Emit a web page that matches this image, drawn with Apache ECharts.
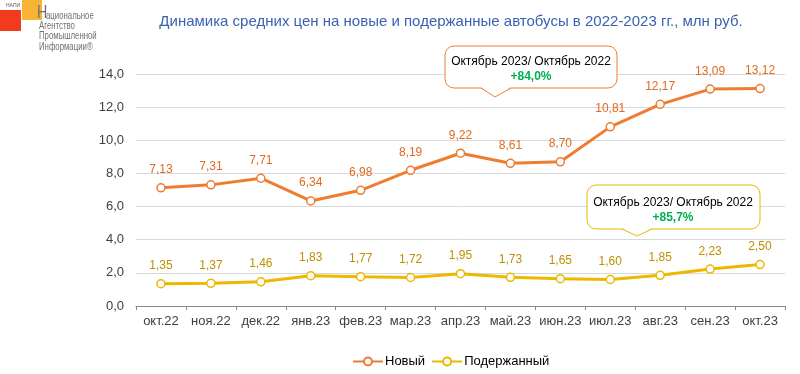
<!DOCTYPE html>
<html><head><meta charset="utf-8">
<script src="https://cdn.jsdelivr.net/npm/echarts@6/dist/echarts.min.js"></script>
<style>html,body{margin:0;padding:0;background:#fff}#c{width:800px;height:374px}</style>
</head><body><div id="c"></div>
<script>
const categories = ['окт.22','ноя.22','дек.22','янв.23','фев.23','мар.23','апр.23','май.23','июн.23','июл.23','авг.23','сен.23','окт.23'];
const newPrices = [7.13, 7.31, 7.71, 6.34, 6.98, 8.19, 9.22, 8.61, 8.70, 10.81, 12.17, 13.09, 13.12];
const usedPrices = [1.35, 1.37, 1.46, 1.83, 1.77, 1.72, 1.95, 1.73, 1.65, 1.60, 1.85, 2.23, 2.50];
const seriesNames = ['Новый', 'Подержанный'];
const yTicks = [0, 2, 4, 6, 8, 10, 12, 14];
const titleText = 'Динамика средних цен на новые и подержанные автобусы в 2022-2023 гг., млн руб.';
const calloutLabel = 'Октябрь 2023/ Октябрь 2022';
const newChange = '+84,0%';
const usedChange = '+85,7%';

const FONT = '"Liberation Sans", Arial, sans-serif';
const ORANGE = '#ED7D31', GOLD = '#EDB800', GOLD_LBL = '#BF9000';
const fmt2 = v => v.toFixed(2).replace('.', ',');

function callout(x0, y0, x1, y1, nL, tipX, tipY, nR, color) {
  return [
    {type: 'rect', shape: {x: x0, y: y0, width: x1 - x0, height: y1 - y0, r: 9},
      style: {fill: '#fff', stroke: color, lineWidth: 1}, z: 50},
    {type: 'polygon', shape: {points: [[nL, y1 - 1], [tipX, tipY], [nR, y1 - 1]]},
      style: {fill: '#fff'}, z: 51},
    {type: 'polyline', shape: {points: [[nL, y1], [tipX, tipY], [nR, y1]]},
      style: {fill: null, stroke: color, lineWidth: 1}, z: 52}
  ];
}
function logoText(text, x, y) {
  return {type: 'text', x: x, y: y, scaleX: 0.78, style: {text: text, font: '10px ' + FONT, fill: '#707070'}};
}

const chart = echarts.init(document.getElementById('c'), null, {renderer: 'canvas'});
chart.setOption({
  animation: false,
  textStyle: {fontFamily: FONT},
  title: {
    text: titleText, left: 446, top: 9, textAlign: 'center',
    textStyle: {fontFamily: FONT, fontSize: 15, fontWeight: 'normal', color: '#3A62B0'}
  },
  grid: {left: 136, right: 15, top: 74, bottom: 68, containLabel: false},
  legend: {
    data: seriesNames, bottom: 1, left: 347, itemWidth: 30, itemHeight: 10, itemGap: 6,
    textStyle: {fontFamily: FONT, fontSize: 13, color: '#000', padding: [0, 0, 0, -3]}
  },
  xAxis: {
    type: 'category', data: categories, boundaryGap: true,
    axisLine: {lineStyle: {color: '#868686'}},
    axisTick: {show: true, length: 4, lineStyle: {color: '#868686'}},
    axisLabel: {interval: 0, fontFamily: FONT, fontSize: 13, color: '#404040', margin: 9}
  },
  yAxis: {
    type: 'value', min: yTicks[0], max: yTicks[yTicks.length-1], interval: 2,
    axisLine: {show: false}, axisTick: {show: false},
    splitLine: {lineStyle: {color: '#D9D9D9'}},
    axisLabel: {fontFamily: FONT, fontSize: 13, color: '#404040', margin: 12,
      formatter: v => v.toFixed(1).replace('.', ',')}
  },
  series: [
    {
      name: seriesNames[0], type: 'line', data: newPrices,
      lineStyle: {color: ORANGE, width: 3}, itemStyle: {color: '#fff', borderColor: ORANGE, borderWidth: 1.5},
      symbol: 'circle', symbolSize: 8,
      label: {show: true, position: 'top', distance: 7, fontFamily: FONT, fontSize: 12, color: '#E06A1E',
        formatter: p => fmt2(p.value)}
    },
    {
      name: seriesNames[1], type: 'line', data: usedPrices,
      lineStyle: {color: GOLD, width: 3}, itemStyle: {color: '#fff', borderColor: GOLD, borderWidth: 1.5},
      symbol: 'circle', symbolSize: 8,
      label: {show: true, position: 'top', distance: 7, fontFamily: FONT, fontSize: 12, color: GOLD_LBL,
        formatter: p => fmt2(p.value)}
    }
  ],
  graphic: [
    {type: 'rect', shape: {x: 0, y: 10, width: 21, height: 21}, style: {fill: '#F23A1D'}},
    {type: 'rect', shape: {x: 22, y: 0, width: 20, height: 20}, style: {fill: '#F7B334'}},
    {type: 'text', x: 6, y: 3, style: {text: 'НАПИ', font: '5px ' + FONT, fill: '#555'}},
    {type: 'text', x: 37, y: 3, scaleX: 0.75, style: {text: 'Н', font: '19px ' + FONT, fill: '#707070'}},
    logoText('ациональное', 46, 11),
    logoText('Агентство', 39, 21),
    logoText('Промышленной', 39, 31),
    logoText('Информации®', 39, 42)
  ].concat(
    callout(445, 46, 617, 88, 481, 495, 97, 511, ORANGE),
    [
      {type: 'text', x: 531, y: 62, z: 60, style: {text: calloutLabel, font: '12px ' + FONT, fill: '#000', align: 'center', verticalAlign: 'middle'}},
      {type: 'text', x: 531, y: 77, z: 60, style: {text: newChange, font: 'bold 12px ' + FONT, fill: '#00B050', align: 'center', verticalAlign: 'middle'}}
    ],
    callout(587, 185, 760, 229, 622, 637, 236, 652, '#E8B800'),
    [
      {type: 'text', x: 673, y: 203, z: 60, style: {text: calloutLabel, font: '12px ' + FONT, fill: '#000', align: 'center', verticalAlign: 'middle'}},
      {type: 'text', x: 673, y: 218, z: 60, style: {text: usedChange, font: 'bold 12px ' + FONT, fill: '#00B050', align: 'center', verticalAlign: 'middle'}}
    ]
  )
});
</script></body></html>
